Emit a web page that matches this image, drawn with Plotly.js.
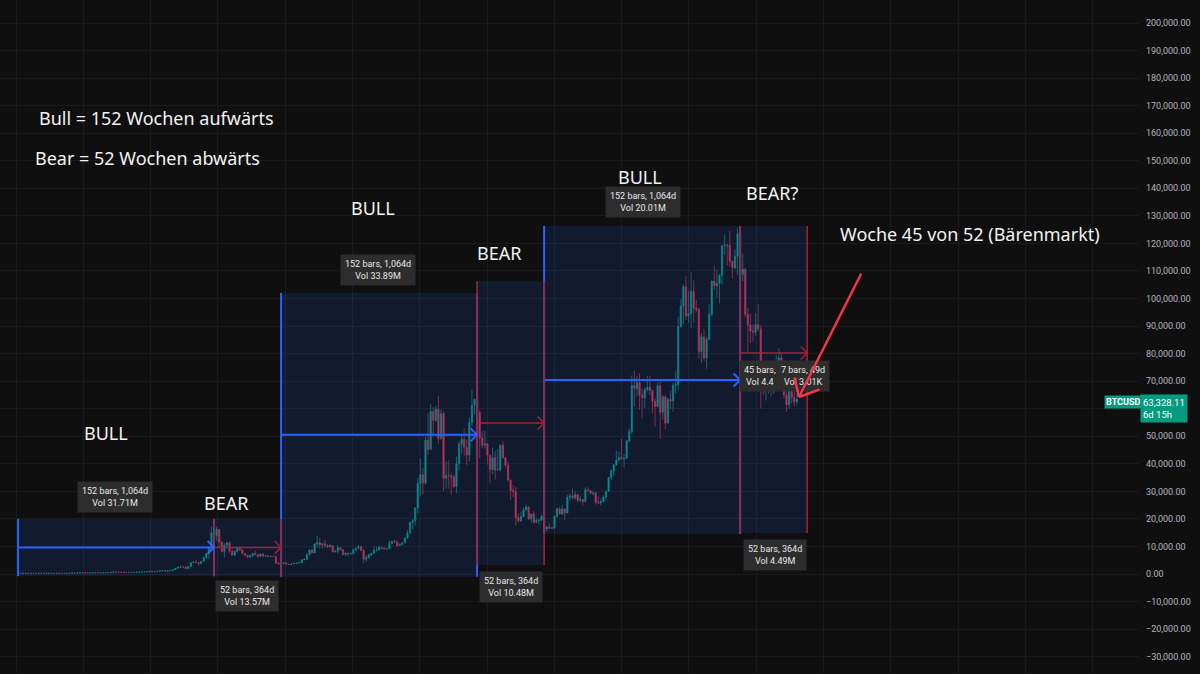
<!DOCTYPE html>
<html><head><meta charset="utf-8">
<script src="https://cdn.plot.ly/plotly-3.0.1.min.js"></script>
<style>html,body{margin:0;padding:0;background:#0f0f0f;}#chart{width:1200px;height:674px;}</style>
</head><body><div id="chart"></div>
<script>
// BTCUSD, 2-week candles starting 2015-01-12
const candleStart = '2015-01-12';
const candleStepDays = 14;
const openP = [
270,210,225,235,260,285,250,236,220,240,240,225,245,260,275,282,260,230,232,234,246,285,375,323,390,440,
430,385,375,405,430,415,415,420,450,460,440,575,760,705,665,625,585,570,608,600,615,655,705,730,765,790,
1000,820,920,1000,1150,1230,970,1200,1250,1550,2050,2520,2520,2500,1930,2750,4100,4350,4200,3700,4600,6000,7400,9500,15000,14000,
16200,11600,8200,10400,11400,8200,6900,8300,9400,8700,7400,6800,6100,6750,7400,7000,6400,7300,6500,6600,6300,6450,6400,4000,3600,3950,
4050,3550,3450,3650,3850,4000,4100,5150,5300,7000,8700,7650,10900,11400,10600,11000,10300,9800,10350,8050,8300,9550,8800,7000,7500,7500,
7350,8700,9350,9900,8550,5350,5900,6900,7550,8600,8700,9650,9350,9050,9200,11050,11900,11700,10300,10750,11350,13050,14850,18700,19350,24000,
32900,36000,33100,48600,45200,59000,55800,59800,49100,58200,34700,35800,35600,35300,31800,39900,47100,48800,46000,43200,55000,61300,63300,58600,49400,46700,
47300,43100,37900,42200,37700,37800,46800,42200,39500,34100,30300,29900,20500,19300,20800,23300,24300,20000,21800,18800,19400,19600,21000,16300,17100,16800,
16600,20900,23700,21800,23600,22200,27900,28300,27600,28800,26800,27100,26300,30600,30300,29300,29400,26000,25800,26300,27900,30000,35000,37400,39500,41400,
42300,41700,42000,48300,51700,68400,67200,69400,64900,64000,66900,67800,66600,62700,60800,68300,58700,64200,54800,63300,62800,68400,68800,89800,97200,104300,
93700,94500,102600,96500,96100,80700,86100,78400,85100,94300,106300,104600,105500,108400,119100,119400,119300,113500,111200,115300,123500,108700,110600,94200,90400,88200,
87800,90500,89000,70500,67900,68200,71000,66500,74800,76000,78500,71500,65000,61500,66500,64000,62500
];
const highP = [
290,310,260,265,300,295,260,240,245,245,242,252,268,310,295,285,265,240,240,250,290,500,390,395,470,460,
455,410,410,445,440,420,425,460,465,462,590,780,770,705,680,630,590,615,612,620,660,745,750,770,795,1005,
1150,925,1050,1200,1290,1250,1210,1265,1560,2100,2760,2980,2780,2650,2900,4200,4480,4980,4350,4650,6200,7600,9700,17200,19800,17200,
16300,11900,11200,11700,11700,9200,8400,9800,9900,8900,7800,6900,6800,7500,8500,7150,7300,7400,6800,6700,6700,6550,6500,4400,4200,4250,
4100,3650,3700,4200,4050,4150,5450,5650,7500,8800,9100,11200,13900,13200,11100,12300,10950,10950,10400,8800,10500,9550,9100,7850,7650,7700,
9200,9600,10500,10250,9200,6950,7450,7700,10000,9950,10400,10000,9800,9450,12100,12100,12450,12100,11100,11450,13350,15950,18800,19900,24200,34800,
41950,38400,49700,58350,61700,60600,61200,64800,59600,59000,40900,41300,36700,35900,42600,48100,50500,52900,48800,56600,67000,63700,69000,59400,51900,52100,
47600,43500,45800,44700,45400,46900,48200,42500,40800,34200,32300,31600,21900,22500,24200,25200,24500,21800,22800,20400,19900,21500,21400,17400,18400,17000,
21400,23900,24200,25200,23800,28800,29200,31000,30000,28900,28400,27300,31400,31800,30300,30200,29700,28100,27400,28600,30300,35200,38000,39900,44700,44400,
49000,43500,48600,52900,72000,73800,71800,72800,67200,67700,71900,71900,66900,63800,69400,70000,65000,64900,64100,66500,69400,73600,93400,99600,105200,108300,
102700,109600,106500,99500,96500,87400,88800,86100,97900,106500,111900,110600,108900,119500,123200,119800,124500,113800,117900,125700,126200,116400,111200,96600,94600,90600,
94800,97900,90500,72000,74000,74500,72500,76000,79500,82000,80000,73000,68000,67500,69000,67000,65500
];
const lowP = [
170,200,212,230,255,240,230,215,218,232,222,225,240,260,270,255,200,225,225,234,245,280,300,320,390,420,
360,365,365,400,405,405,410,420,440,435,440,570,550,610,600,480,565,565,590,595,610,650,690,725,755,790,
750,800,910,990,1100,890,950,1170,1250,1550,1900,2300,2400,1850,1900,2650,3950,4000,2950,3650,4600,5500,5500,9000,10900,12000,
9400,7800,6000,9300,7700,6500,6500,7900,8300,7200,6600,5800,5800,6100,6900,5900,6300,6100,6100,6200,6300,6250,3700,3450,3150,3600,
3450,3400,3400,3650,3700,3950,4100,5000,5250,6800,7450,7600,9600,9100,9200,9500,9300,9750,7700,7800,7300,8750,6800,6550,6450,7050,
7350,8250,9150,8450,3850,4450,5850,6500,7550,8200,8650,9100,8900,9000,9150,10950,11150,9900,10150,10350,11200,12900,14800,16200,17600,21900,
28100,28900,32300,43000,45000,50300,55100,47100,48800,30000,31000,31000,28800,31100,29300,37500,43900,42800,39600,40800,53900,58000,55600,42000,45600,45600,
39700,32900,36300,34300,37600,37200,41900,38600,33700,26700,28000,17600,18600,18900,20700,22700,19600,18600,18200,18500,18200,19200,15600,15500,16300,16300,
16500,20400,21500,21400,19600,21900,26600,27200,27000,26100,26100,24800,26300,29700,28900,28600,25200,25400,24900,26000,26600,29900,34100,35600,39500,40600,
41500,38500,41800,47800,50900,60800,64500,59600,56500,60300,66200,65000,58400,53500,60700,49100,56100,52600,54600,59800,58900,65500,66800,89400,90500,92200,
91200,89300,91200,94900,78200,76600,77200,74500,85100,93500,103100,100400,98200,105100,115700,112000,111700,107300,110600,108600,102000,106300,93000,80600,83800,84400,
86600,88200,60100,65000,63000,65500,64500,65500,72000,74500,70000,63500,59000,60000,62000,61000,61500
];
const closeP = [
210,225,235,260,285,250,236,220,240,240,225,245,260,275,282,260,230,232,234,246,285,375,323,390,440,430,
385,375,405,430,415,415,420,450,460,440,575,760,705,665,625,585,570,608,600,615,655,705,730,765,790,1000,
820,920,1000,1150,1230,970,1200,1250,1550,2050,2520,2520,2500,1930,2750,4100,4350,4200,3700,4600,6000,7400,9500,15000,14000,16200,
11600,8200,10400,11400,8200,6900,8300,9400,8700,7400,6800,6100,6750,7400,7000,6400,7300,6500,6600,6300,6450,6400,4000,3600,3950,4050,
3550,3450,3650,3850,4000,4100,5150,5300,7000,8700,7650,10900,11400,10600,11000,10300,9800,10350,8050,8300,9550,8800,7000,7500,7500,7350,
8700,9350,9900,8550,5350,5900,6900,7550,8600,8700,9650,9350,9050,9200,11050,11900,11700,10300,10750,11350,13050,14850,18700,19350,24000,32900,
36000,33100,48600,45200,59000,55800,59800,49100,58200,34700,35800,35600,35300,31800,39900,47100,48800,46000,43200,55000,61300,63300,58600,49400,46700,47300,
43100,37900,42200,37700,37800,46800,42200,39500,34100,30300,29900,20500,19300,20800,23300,24300,20000,21800,18800,19400,19600,21000,16300,17100,16800,16600,
20900,23700,21800,23600,22200,27900,28300,27600,28800,26800,27100,26300,30600,30300,29300,29400,26000,25800,26300,27900,30000,35000,37400,39500,41400,42300,
41700,42000,48300,51700,68400,67200,69400,64900,64000,66900,67800,66600,62700,60800,68300,58700,64200,54800,63300,62800,68400,68800,89800,97200,104300,93700,
94500,102600,96500,96100,80700,86100,78400,85100,94300,106300,104600,105500,108400,119100,119400,119300,113500,111200,115300,123500,108700,110600,94200,90400,88200,87800,
90500,89000,70500,67900,68200,71000,66500,74800,76000,78500,71500,65000,61500,66500,64000,62500,63328
];

// Cycle phases (date-range drawings)
const phaseKind  = ['bull','bear','bull','bear','bull','bear'];
const phaseStart = ['2015-01-12','2017-12-11','2018-12-10','2021-11-08','2022-11-07','2025-10-06'];
const phaseEnd   = ['2017-12-11','2018-12-10','2021-11-08','2022-11-07','2025-10-06','2026-10-05'];
const phaseLow   = [-800, -800, -1000, 3300, 14500, 14900];
const phaseHigh  = [20000, 20000, 102000, 106300, 126300, 126300];
const phaseArrowPrice = [9600, 9600, 50500, 54800, 70400, 80200];
const phaseBars  = ['152 bars, 1,064d','52 bars, 364d','152 bars, 1,064d','52 bars, 364d','152 bars, 1,064d','52 bars, 364d'];
const phaseVol   = ['Vol 31.71M','Vol 13.57M','Vol 33.89M','Vol 10.48M','Vol 20.01M','Vol 4.49M'];
const phaseTitle = ['BULL','BEAR','BULL','BEAR','BULL','BEAR?'];

// current-bear measurements (second label partly covers the first)
const measureBars = ['45 bars,', '7 bars, 49d'];
const measureVol  = ['Vol 4.4', 'Vol 3.01K'];

// y-axis ticks
const yTicks = [-30000,-20000,-10000,0,10000,20000,30000,40000,50000,60000,70000,80000,90000,100000,
  110000,120000,130000,140000,150000,160000,170000,180000,190000,200000];
const hiddenTick = 60000; // covered by the price tag

const lastPrice = '63,328.11';
const countdown = '6d 15h';
const symbol = 'BTCUSD';

// ---------- build ----------
const dates = closeP.map((_, i) => {
  const d = new Date(Date.parse(candleStart + 'T00:00:00Z') + i * candleStepDays * 86400000);
  return d.toISOString().slice(0, 10);
});

const W = 1200, H = 674, MR = 62, PW = W - MR;
const px = x => x / PW;
const py = y => 1 - y / H;

const BLUE = '#2962ff';
const RED = '#9e2331';
const FILL = 'rgba(41,98,255,0.14)';

const shapes = [];
const annotations = [];

phaseKind.forEach((k, i) => {
  shapes.push({type:'rect', xref:'x', yref:'y', layer:'above',
    x0: phaseStart[i], x1: phaseEnd[i], y0: phaseLow[i], y1: phaseHigh[i],
    fillcolor: FILL, line:{width:0}});
});
['bull','bear'].forEach(kind => {
  phaseKind.forEach((k, i) => {
    if (k !== kind) return;
    const col = k === 'bull' ? BLUE : RED;
    const w = k === 'bull' ? 2 : 1.6;
    [phaseStart[i], phaseEnd[i]].forEach(xx => {
      shapes.push({type:'line', xref:'x', yref:'y', layer:'above',
        x0: xx, x1: xx, y0: phaseLow[i], y1: phaseHigh[i], line:{color: col, width: w}});
    });
    shapes.push({type:'line', xref:'x', yref:'y', layer:'above',
      x0: phaseStart[i], x1: phaseEnd[i], y0: phaseArrowPrice[i], y1: phaseArrowPrice[i],
      line:{color: col, width: w}});
    [-8, 8].forEach(ay => {
      annotations.push({xref:'x', yref:'y', x: phaseEnd[i], y: phaseArrowPrice[i],
        text:'', showarrow:true, arrowhead:0, arrowwidth: w, arrowcolor: col,
        ax:-8, ay: ay, standoff:0});
    });
  });
});

const labelPos = [[115,497],[247,596],[378,270],[511,587],[643,202],[775,555]];
const boxStyle = {bgcolor:'#2d2d2d', borderpad:4, font:{family:'Roboto, Noto Sans, sans-serif', size:9, color:'#e8e8e8'}, showarrow:false, align:'center'};
phaseBars.forEach((b, i) => {
  annotations.push(Object.assign({xref:'paper', yref:'paper', x: px(labelPos[i][0]), y: py(labelPos[i][1]),
    xanchor:'center', yanchor:'middle', text: b + '<br>' + phaseVol[i]}, boxStyle));
});
const measurePos = [[739, 'left'], [830, 'right']];
measureBars.forEach((b, i) => {
  annotations.push(Object.assign({xref:'paper', yref:'paper', x: px(measurePos[i][0]), y: py(376),
    xanchor: measurePos[i][1], yanchor:'middle', text: b + '<br>' + measureVol[i]}, boxStyle));
});

const bigFont = {family:'Noto Sans, sans-serif', size:18, color:'#f2f2f2'};
const bigTexts = [
  ['Bull = 152 Wochen aufwärts', 37, 118, 'left'],
  ['Bear = 52 Wochen abwärts', 33, 158, 'left'],
  [phaseTitle[0], 106, 433, 'center'],
  [phaseTitle[1], 226, 503, 'center'],
  [phaseTitle[2], 373, 208, 'center'],
  [phaseTitle[3], 499, 253, 'center'],
  [phaseTitle[4], 640, 177, 'center'],
  [phaseTitle[5], 772, 193, 'center'],
  ['Woche 45 von 52 (Bärenmarkt)', 838, 234, 'left']
];
bigTexts.forEach(t => {
  annotations.push({xref:'paper', yref:'paper', x: px(t[1]), y: py(t[2]), xanchor: t[3], yanchor:'middle',
    text: t[0], showarrow:false, font: bigFont});
});

const tip = [799, 397];
[[63, -125], [-5, -21], [22, -8]].forEach(a => {
  annotations.push({xref:'paper', yref:'paper', x: px(tip[0]), y: py(tip[1]), text:'', showarrow:true,
    arrowhead:0, arrowwidth:2.5, arrowcolor:'#f23645', ax: a[0], ay: a[1], standoff:0});
});

annotations.push({xref:'paper', yref:'paper', x: px(1104), y: py(395), xanchor:'left', yanchor:'top',
  text:'<b>' + symbol + '</b>', showarrow:false, bgcolor:'#089981', borderpad:1,
  font:{family:'Roboto, sans-serif', size:9, color:'#ffffff'}});
annotations.push({xref:'paper', yref:'paper', x: px(1140), y: py(394), xanchor:'left', yanchor:'top',
  text: lastPrice + '<br>' + countdown, showarrow:false, bgcolor:'#089981', borderpad:2, align:'left',
  font:{family:'Roboto, sans-serif', size:9.5, color:'#ffffff'}});

const trace = {
  type:'candlestick', x: dates, open: openP, high: highP, low: lowP, close: closeP,
  increasing:{line:{color:'#0a8c76', width:0.7}, fillcolor:'#0a8c76'},
  decreasing:{line:{color:'#c42f3f', width:0.7}, fillcolor:'#c42f3f'},
  whiskerwidth:0, hoverinfo:'skip', showlegend:false
};

const layout = {
  width: W, height: H,
  margin:{l:0, r:MR, t:0, b:0, pad:0},
  paper_bgcolor:'#0f0f0f', plot_bgcolor:'#0f0f0f',
  showlegend:false,
  xaxis:{type:'date', range:['2014-10-06','2031-09-05'], showticklabels:false, ticks:'',
    showgrid:true, gridcolor:'#1b1b1b', tick0:'2015-01-01', dtick:'M12', zeroline:false, showline:false,
    rangeslider:{visible:false}, fixedrange:true},
  yaxis:{side:'right', range:[-36300, 208350], tickmode:'array', tickvals: yTicks,
    ticktext: yTicks.map(v => v === hiddenTick ? '' : v.toLocaleString('en-US', {minimumFractionDigits:2, maximumFractionDigits:2}).replace(/^-/, '\u2212')),
    showgrid:true, gridcolor:'#1b1b1b', zeroline:false, showline:false, ticks:'',
    ticklabelstandoff:7, tickfont:{family:'Roboto, sans-serif', size:9, color:'#b2b5be'}, fixedrange:true},
  shapes: shapes,
  annotations: annotations
};

Plotly.newPlot('chart', [trace], layout, {displayModeBar:false, staticPlot:true});
</script>
</body></html>
